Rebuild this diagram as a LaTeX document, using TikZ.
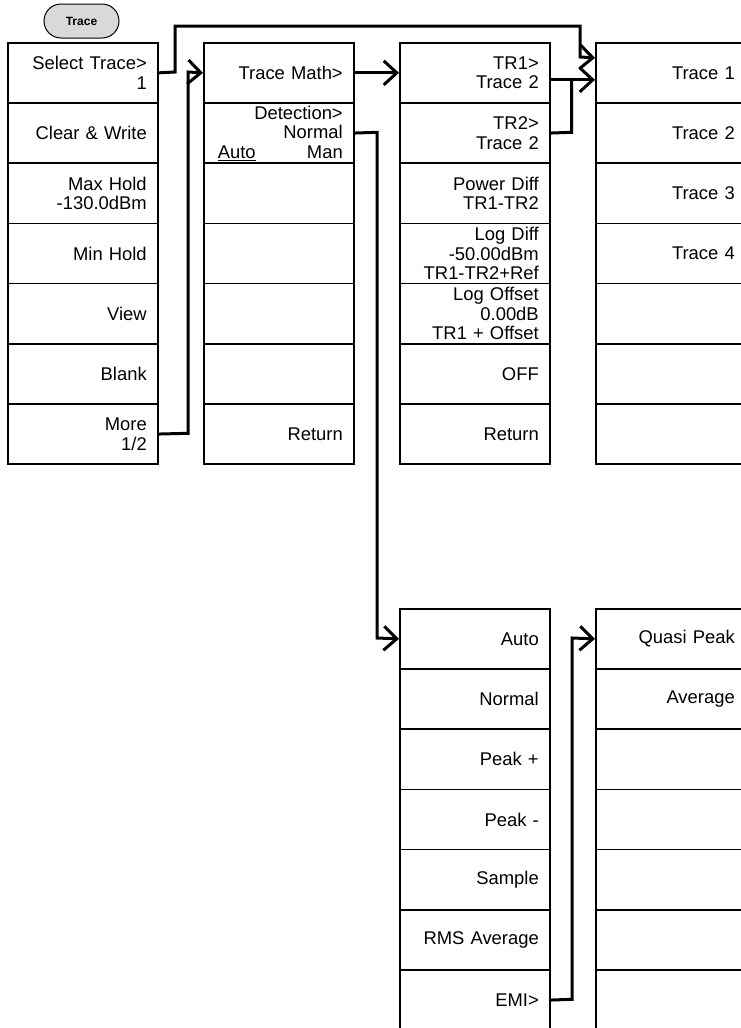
\documentclass[tikz,border=0pt]{standalone}
\usepackage{fontspec}
\setmainfont{Liberation Sans}
\usetikzlibrary{arrows.meta,calc}
\newcommand{\cellfont}{\fontsize{18.4}{19.6}\selectfont}
\tikzset{
  cell/.style={draw, line width=1.5pt, fill=white, minimum height=60.2pt,
    text width=128pt, inner xsep=11pt, inner ysep=0pt, align=right,
    font=\cellfont, anchor=north west},
  conn/.style={line width=3pt},
  arr/.style={conn, -{Straight Barb[length=13pt, width=24pt, line width=3pt]}},
  btn/.style={draw, line width=1pt, fill=black!15, rounded corners=17pt,
    minimum width=75pt, minimum height=34pt, font=\fontsize{12}{14}\selectfont\bfseries}
}
\begin{document}
\begin{tikzpicture}[x=1pt,y=-1pt]
\useasboundingbox (0,0) rectangle (741,1028);
% button
\node[btn] (trace) at (81.5,21) {Trace};
% column 1
\node[cell] (c1r1) at (7,42) {Select Trace>\\1};
\node[cell] (c1r2) at (7,102.2) {Clear \& Write};
\node[cell] (c1r3) at (7,162.4) {Max Hold\\-130.0dBm};
\node[cell] (c1r4) at (7,222.6) {Min Hold};
\node[cell] (c1r5) at (7,282.8) {View};
\node[cell] (c1r6) at (7,343.0) {Blank};
\node[cell] (c1r7) at (7,403.2) {More\\1/2};
% column 2
\node[cell] (c2r1) at (203,42) {Trace Math>};
\node[cell] (c2r2) at (203,102.2) {Detection>\\Normal\\\makebox[\linewidth]{\hspace*{3pt}\underline{Auto}\hfill Man}};
\node[cell] (c2r3) at (203,162.4) {};
\node[cell] (c2r4) at (203,222.6) {};
\node[cell] (c2r5) at (203,282.8) {};
\node[cell] (c2r6) at (203,343.0) {};
\node[cell] (c2r7) at (203,403.2) {Return};
% column 3
\node[cell] (c3r1) at (399,42) {TR1>\\Trace 2};
\node[cell] (c3r2) at (399,102.2) {TR2>\\Trace 2};
\node[cell] (c3r3) at (399,162.4) {Power Diff\\TR1-TR2};
\node[cell] (c3r4) at (399,222.6) {Log Diff\\-50.00dBm\\TR1-TR2+Ref};
\node[cell] (c3r5) at (399,282.8) {Log Offset\\0.00dB\\TR1 + Offset};
\node[cell] (c3r6) at (399,343.0) {OFF};
\node[cell] (c3r7) at (399,403.2) {Return};
% column 4
\node[cell] (c4r1) at (595,42) {Trace 1};
\node[cell] (c4r2) at (595,102.2) {Trace 2};
\node[cell] (c4r3) at (595,162.4) {Trace 3};
\node[cell] (c4r4) at (595,222.6) {Trace 4};
\node[cell] (c4r5) at (595,282.8) {};
\node[cell] (c4r6) at (595,343.0) {};
\node[cell] (c4r7) at (595,403.2) {};
% bottom column 3
\node[cell] (b3r1) at (399,608) {Auto};
\node[cell] (b3r2) at (399,668.2) {Normal};
\node[cell] (b3r3) at (399,728.4) {Peak +};
\node[cell] (b3r4) at (399,788.6) {Peak -};
\node[cell] (b3r5) at (399,848.8) {Sample};
\node[cell] (b3r6) at (399,909.0) {RMS Average};
\node[cell] (b3r7) at (399,969.2) {EMI>};
% bottom column 4
\node[cell] (b4r1) at (595,608) {Quasi Peak};
\node[cell] (b4r2) at (595,668.2) {Average};
\node[cell] (b4r3) at (595,728.4) {};
\node[cell] (b4r4) at (595,788.6) {};
\node[cell] (b4r5) at (595,848.8) {};
\node[cell] (b4r6) at (595,909.0) {};
\node[cell] (b4r7) at (595,969.2) {};
% connectors
\draw[arr] (c1r1.east) -- (175,72) -- (175,26) -- (580,26) -- (580,57) -- ($(c4r1.west)+(0,-15)$);
\draw[arr] (c1r7.east) -- (188,433.3) -- (188,72) -- (c2r1.west);
\draw[arr] (c2r1.east) -- (c3r1.west);
\draw[arr] ($(c3r1.east)+(0,7)$) -- ($(c4r1.west)+(0,7)$);
\draw[conn] (c3r2.east) -- (571.5,132.3) -- (571.5,79);
\draw[arr] (c2r2.east) -- (377,132.3) -- (377,638) -- (b3r1.west);
\draw[arr] (b3r7.east) -- (572,999.3) -- (572,638) -- (b4r1.west);
\end{tikzpicture}
\end{document}
